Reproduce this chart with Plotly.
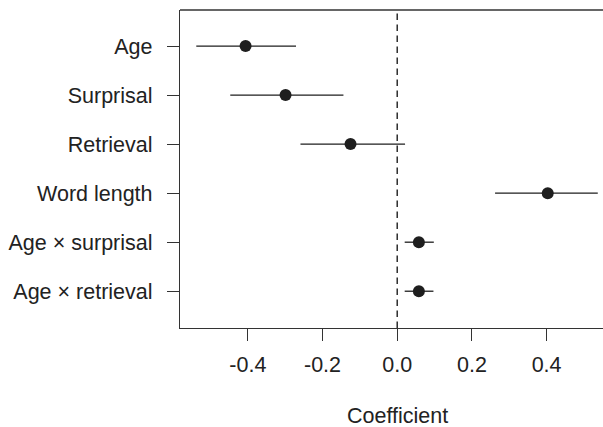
import plotly.graph_objects as go

labels = ["Age", "Surprisal", "Retrieval", "Word length", "Age × surprisal", "Age × retrieval"]
estimate = [-0.406, -0.299, -0.125, 0.403, 0.058, 0.058]
ci_low = [-0.538, -0.447, -0.259, 0.262, 0.020, 0.020]
ci_high = [-0.271, -0.144, 0.021, 0.537, 0.098, 0.097]
x_ticks = [-0.4, -0.2, 0.0, 0.2, 0.4]
x_ticktext = ["-0.4", "-0.2", "0.0", "0.2", "0.4"]

ypos = list(range(len(labels), 0, -1))
ink = "#1e1e1e"
font = dict(family="Liberation Sans, Arial, sans-serif", size=21.5, color="#222222")

fig = go.Figure()
fig.add_trace(go.Scatter(
    x=estimate, y=ypos, mode="markers",
    marker=dict(size=12, color=ink, line=dict(width=0)),
    error_x=dict(type="data", symmetric=False,
                 array=[h - e for h, e in zip(ci_high, estimate)],
                 arrayminus=[e - l for e, l in zip(estimate, ci_low)],
                 width=0, thickness=1.3, color=ink),
    showlegend=False, hoverinfo="skip",
))

fig.add_vline(x=0, line=dict(color=ink, width=1.4, dash="6.5px,4.5px"))
fig.add_shape(type="line", xref="paper", yref="paper", x0=0, x1=1, y0=1, y1=1,
              line=dict(color="#333333", width=1.3))

fig.add_annotation(text="Coefficient", x=0, xref="x", y=-0.278, yref="paper",
                   showarrow=False, yanchor="middle", xanchor="center", font=font)

fig.update_xaxes(range=[-0.5816, 0.551], tickvals=x_ticks, ticktext=x_ticktext,
                 showline=True, linecolor="#333333", linewidth=1.3,
                 ticks="outside", ticklen=12, tickwidth=1.3, tickcolor="#333333",
                 ticklabelstandoff=5, showgrid=False, zeroline=False, tickfont=font)
fig.update_yaxes(range=[0.25, 6.735], tickvals=ypos, ticktext=labels,
                 showline=True, linecolor="#333333", linewidth=1.3,
                 ticks="outside", ticklen=12, tickwidth=1.3, tickcolor="#333333",
                 ticklabelstandoff=10, showgrid=False, zeroline=False, tickfont=font)

fig.update_layout(width=603, height=427, margin=dict(l=180, r=0, t=10, b=99),
                  plot_bgcolor="white", paper_bgcolor="white", font=font)

fig.write_html("out.html", config={"displayModeBar": False},
               post_script="document.body.style.margin='0';document.documentElement.style.overflow='hidden';")
